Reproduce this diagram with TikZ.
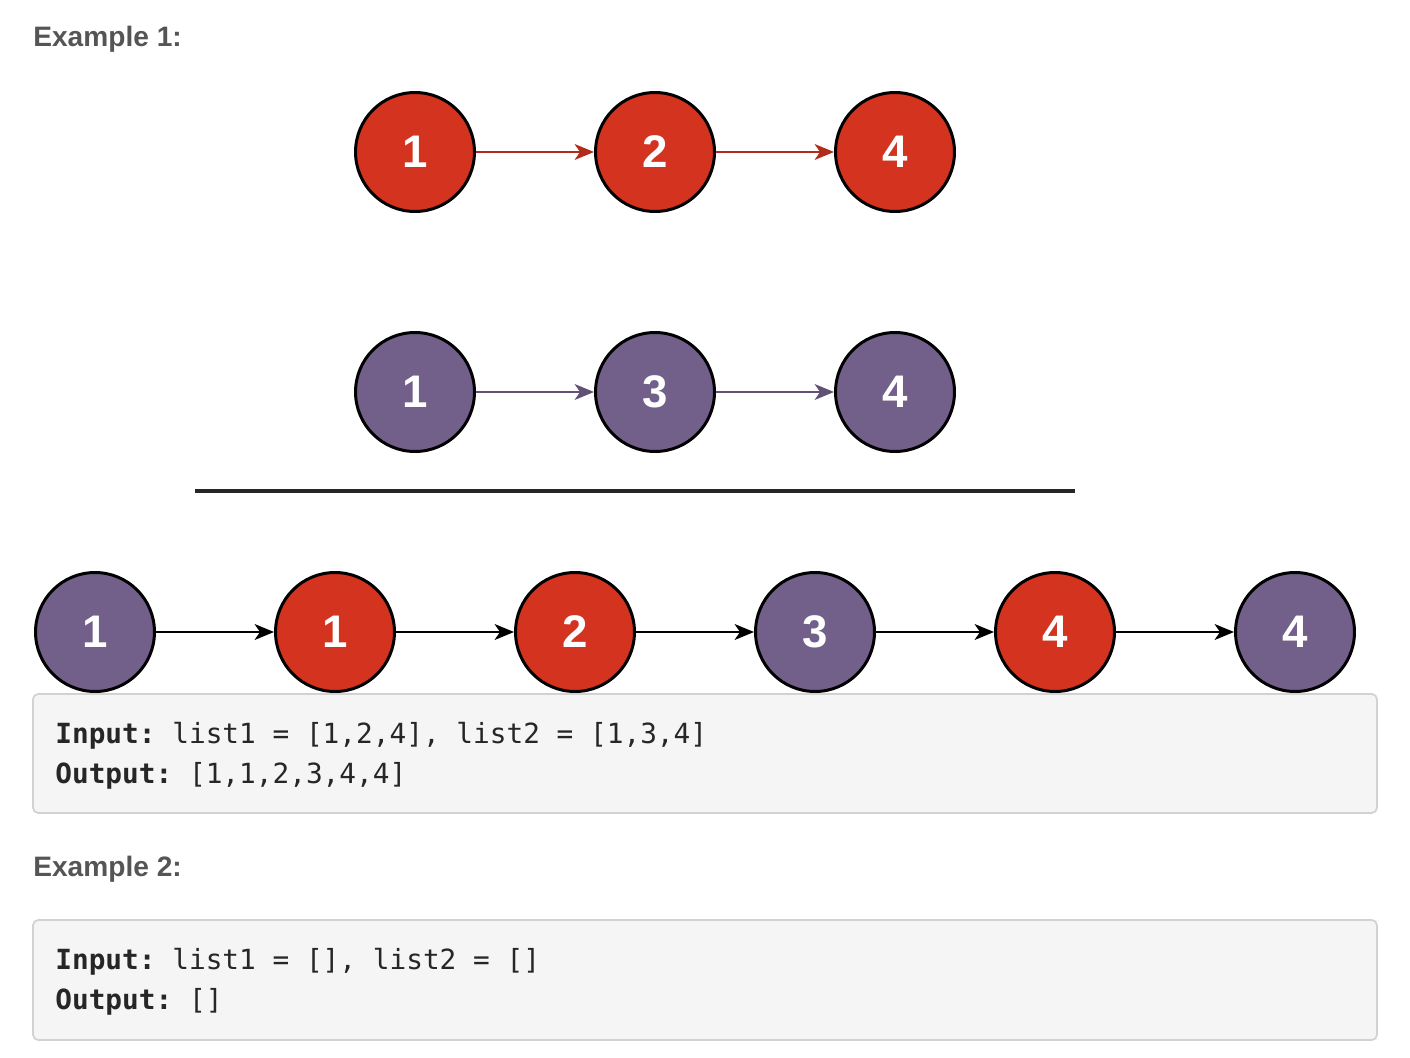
\documentclass[tikz,border=0pt]{standalone}
\usepackage{fontspec}
\setmainfont{Liberation Sans}
\setmonofont{DejaVu Sans Mono}
\usetikzlibrary{arrows.meta}
\definecolor{listred}{HTML}{D3331F}
\definecolor{listpurple}{HTML}{72608A}
\definecolor{codebg}{HTML}{F5F5F5}
\definecolor{codeline}{HTML}{D2D2D2}
\definecolor{headgray}{HTML}{555555}

\tikzset{
  listnode/.style={circle, draw=black, line width=1.7pt, minimum size=2.38cm, inner sep=0pt,
    text=white, font=\fontsize{26}{26}\selectfont\bfseries},
  rednode/.style={listnode, fill=listred},
  purplenode/.style={listnode, fill=listpurple},
  headtext/.style={anchor=base west, inner sep=0pt, text=headgray, font=\fontsize{16}{19}\selectfont\bfseries},
  codetext/.style={anchor=base west, inner sep=0pt, text=black!85, font=\fontsize{15.8}{19}\selectfont\ttfamily},
  codebox/.style={draw=codeline, fill=codebg, line width=1pt, rounded corners=3pt}
}

\begin{document}
\begin{tikzpicture}[>={Stealth[length=11pt, width=9pt, inset=3pt]}, x=0.02cm, y=-0.02cm]
\useasboundingbox (0,0) rectangle (1410,1058);

\node[headtext] (ex1) at (33,46) {Example 1:};

% list1
\node[rednode] (r1) at (415,152) {1};
\node[rednode] (r2) at (655,152) {2};
\node[rednode] (r4) at (895,152) {4};
\draw[->, color=listred!85!black, line width=1.1pt] (r1)--(r2);
\draw[->, color=listred!85!black, line width=1.1pt] (r2)--(r4);

% list2
\node[purplenode] (p1) at (415,392) {1};
\node[purplenode] (p3) at (655,392) {3};
\node[purplenode] (p4) at (895,392) {4};
\draw[->, color=listpurple!85!black, line width=1.1pt] (p1)--(p3);
\draw[->, color=listpurple!85!black, line width=1.1pt] (p3)--(p4);

\draw[line width=2.2pt, color=black!85] (195,491)--(1075,491);

% merged
\node[purplenode] (m1) at (95,632) {1};
\node[rednode] (m2) at (335,632) {1};
\node[rednode] (m3) at (575,632) {2};
\node[purplenode] (m4) at (815,632) {3};
\node[rednode] (m5) at (1055,632) {4};
\node[purplenode] (m6) at (1295,632) {4};
\foreach \a/\b in {m1/m2, m2/m3, m3/m4, m4/m5, m5/m6}
  \draw[->, line width=1.4pt] (\a)--(\b);

\draw[codebox] (33,694) rectangle (1377,813);
\node[codetext] (in1) at (55,743) {\textbf{Input:} list1 = [1,2,4], list2 = [1,3,4]};
\node[codetext] (out1) at (55,783) {\textbf{Output:} [1,1,2,3,4,4]};

\node[headtext] (ex2) at (33,876) {Example 2:};

\draw[codebox] (33,920) rectangle (1377,1040);
\node[codetext] (in2) at (55,969) {\textbf{Input:} list1 = [], list2 = []};
\node[codetext] (out2) at (55,1009) {\textbf{Output:} []};

\end{tikzpicture}
\end{document}
